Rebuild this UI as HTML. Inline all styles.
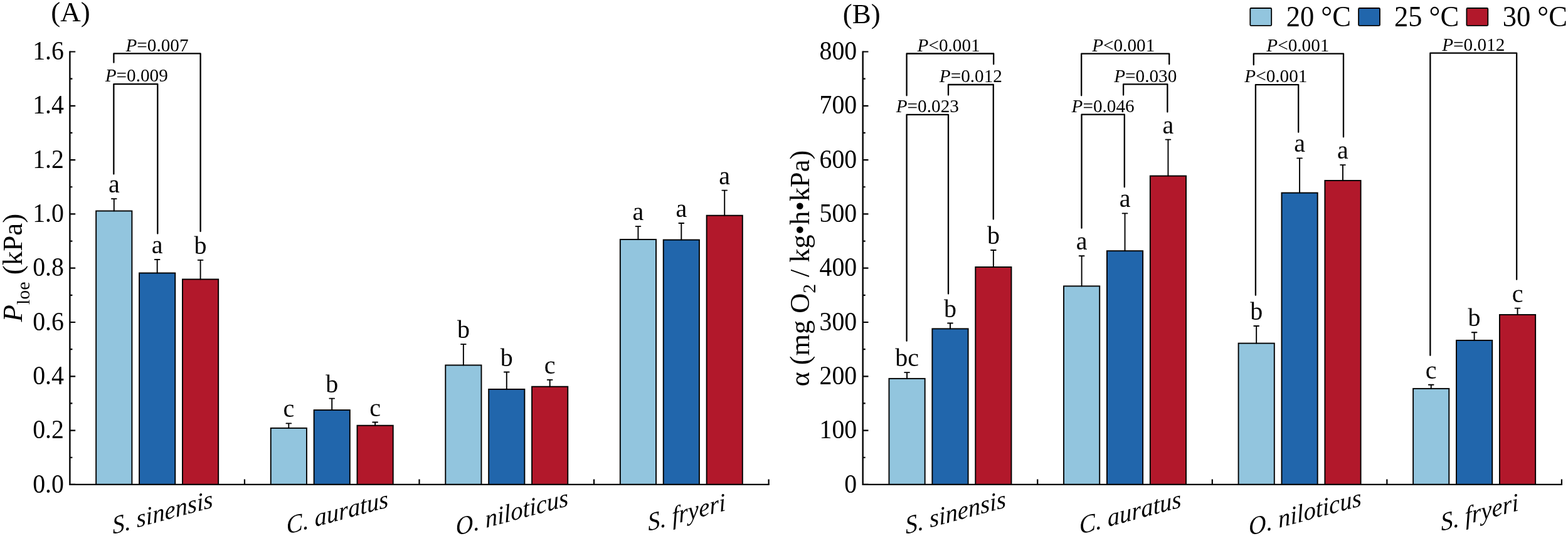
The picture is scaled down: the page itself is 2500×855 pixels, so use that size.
<!DOCTYPE html>
<html><head><meta charset="utf-8"><title>Figure</title>
<style>
html,body{margin:0;padding:0;background:#fff;}
body{width:2500px;height:855px;overflow:hidden;}
svg{display:block;}
svg text{font-family:"Liberation Serif", "Times New Roman", serif;fill:#000;}
</style></head>
<body>
<svg width="2500" height="855" viewBox="0 0 2500 855">
<rect width="2500" height="855" fill="#fff"/>
<rect x="153.18" y="336.5" width="57.2" height="436.4" fill="#92C5DE" stroke="#000" stroke-width="1.9"/>
<path d="M181.78 336.5V317.1M177.88 317.1H185.68" stroke="#000" stroke-width="1.9" fill="none" stroke-linecap="round"/>
<text transform="translate(181.78 307.1) scale(1 1)" text-anchor="middle" font-size="40">a</text>
<rect x="222.08" y="435.5" width="57.2" height="337.4" fill="#2166AC" stroke="#000" stroke-width="1.9"/>
<path d="M250.68 435.5V414M246.78 414H254.58" stroke="#000" stroke-width="1.9" fill="none" stroke-linecap="round"/>
<text transform="translate(250.68 404) scale(1 1)" text-anchor="middle" font-size="40">a</text>
<rect x="290.98" y="445.5" width="57.2" height="327.4" fill="#B2182B" stroke="#000" stroke-width="1.9"/>
<path d="M319.58 445.5V414.9M315.68 414.9H323.48" stroke="#000" stroke-width="1.9" fill="none" stroke-linecap="round"/>
<text transform="translate(319.58 404.9) scale(1 1)" text-anchor="middle" font-size="40">b</text>
<rect x="431.73" y="682.9" width="57.2" height="90" fill="#92C5DE" stroke="#000" stroke-width="1.9"/>
<path d="M460.33 682.9V675.4M456.43 675.4H464.23" stroke="#000" stroke-width="1.9" fill="none" stroke-linecap="round"/>
<text transform="translate(460.33 665.4) scale(1 1)" text-anchor="middle" font-size="40">c</text>
<rect x="500.62" y="654.1" width="57.2" height="118.8" fill="#2166AC" stroke="#000" stroke-width="1.9"/>
<path d="M529.23 654.1V635.6M525.33 635.6H533.12" stroke="#000" stroke-width="1.9" fill="none" stroke-linecap="round"/>
<text transform="translate(529.23 625.6) scale(1 1)" text-anchor="middle" font-size="40">b</text>
<rect x="569.52" y="678.7" width="57.2" height="94.2" fill="#B2182B" stroke="#000" stroke-width="1.9"/>
<path d="M598.12 678.7V673.5M594.23 673.5H602.02" stroke="#000" stroke-width="1.9" fill="none" stroke-linecap="round"/>
<text transform="translate(598.12 663.5) scale(1 1)" text-anchor="middle" font-size="40">c</text>
<rect x="710.28" y="582.5" width="57.2" height="190.4" fill="#92C5DE" stroke="#000" stroke-width="1.9"/>
<path d="M738.88 582.5V549.1M734.98 549.1H742.78" stroke="#000" stroke-width="1.9" fill="none" stroke-linecap="round"/>
<text transform="translate(738.88 539.1) scale(1 1)" text-anchor="middle" font-size="40">b</text>
<rect x="779.18" y="620.9" width="57.2" height="152" fill="#2166AC" stroke="#000" stroke-width="1.9"/>
<path d="M807.78 620.9V593.5M803.88 593.5H811.68" stroke="#000" stroke-width="1.9" fill="none" stroke-linecap="round"/>
<text transform="translate(807.78 583.5) scale(1 1)" text-anchor="middle" font-size="40">b</text>
<rect x="848.08" y="616.7" width="57.2" height="156.2" fill="#B2182B" stroke="#000" stroke-width="1.9"/>
<path d="M876.68 616.7V605.9M872.78 605.9H880.58" stroke="#000" stroke-width="1.9" fill="none" stroke-linecap="round"/>
<text transform="translate(876.68 595.9) scale(1 1)" text-anchor="middle" font-size="40">c</text>
<rect x="988.83" y="382" width="57.2" height="390.9" fill="#92C5DE" stroke="#000" stroke-width="1.9"/>
<path d="M1017.43 382V361.1M1013.53 361.1H1021.33" stroke="#000" stroke-width="1.9" fill="none" stroke-linecap="round"/>
<text transform="translate(1017.43 351.1) scale(1 1)" text-anchor="middle" font-size="40">a</text>
<rect x="1057.73" y="382.6" width="57.2" height="390.3" fill="#2166AC" stroke="#000" stroke-width="1.9"/>
<path d="M1086.33 382.6V356M1082.42 356H1090.23" stroke="#000" stroke-width="1.9" fill="none" stroke-linecap="round"/>
<text transform="translate(1086.33 346) scale(1 1)" text-anchor="middle" font-size="40">a</text>
<rect x="1126.63" y="343.7" width="57.2" height="429.2" fill="#B2182B" stroke="#000" stroke-width="1.9"/>
<path d="M1155.23 343.7V303.6M1151.33 303.6H1159.13" stroke="#000" stroke-width="1.9" fill="none" stroke-linecap="round"/>
<text transform="translate(1155.23 293.6) scale(1 1)" text-anchor="middle" font-size="40">a</text>
<path d="M111.4 81.4V774.1M110.2 772.9H1226.7" stroke="#000" stroke-width="2.4" fill="none"/>
<path d="M389.95 772.9V764.4M668.5 772.9V764.4M947.05 772.9V764.4M1225.6 772.9V764.4" stroke="#000" stroke-width="2.2" fill="none"/>
<path d="M111.4 772.9H120.2M111.4 729.75H115.4M111.4 686.6H120.2M111.4 643.45H115.4M111.4 600.3H120.2M111.4 557.15H115.4M111.4 514H120.2M111.4 470.85H115.4M111.4 427.7H120.2M111.4 384.55H115.4M111.4 341.4H120.2M111.4 298.25H115.4M111.4 255.1H120.2M111.4 211.95H115.4M111.4 168.8H120.2M111.4 125.65H115.4M111.4 82.5H120.2" stroke="#000" stroke-width="2.2" fill="none"/>
<text transform="translate(101.9 785.5) scale(0.97 1.05)" text-anchor="end" font-size="41">0.0</text>
<text transform="translate(101.9 699.2) scale(0.97 1.05)" text-anchor="end" font-size="41">0.2</text>
<text transform="translate(101.9 612.9) scale(0.97 1.05)" text-anchor="end" font-size="41">0.4</text>
<text transform="translate(101.9 526.6) scale(0.97 1.05)" text-anchor="end" font-size="41">0.6</text>
<text transform="translate(101.9 440.3) scale(0.97 1.05)" text-anchor="end" font-size="41">0.8</text>
<text transform="translate(101.9 354) scale(0.97 1.05)" text-anchor="end" font-size="41">1.0</text>
<text transform="translate(101.9 267.7) scale(0.97 1.05)" text-anchor="end" font-size="41">1.2</text>
<text transform="translate(101.9 181.4) scale(0.97 1.05)" text-anchor="end" font-size="41">1.4</text>
<text transform="translate(101.9 95.1) scale(0.97 1.05)" text-anchor="end" font-size="41">1.6</text>
<path d="M181.4 99.65V85.4H319.6V369.05" stroke="#000" stroke-width="2.3" fill="none" stroke-linejoin="round" stroke-linecap="round"/>
<text transform="translate(250.5 81.5) scale(0.975 1)" text-anchor="middle" font-size="30"><tspan font-style="italic">P</tspan>=0.007</text>
<path d="M181.35 277.55V134.2H251.3V372.55" stroke="#000" stroke-width="2.3" fill="none" stroke-linejoin="round" stroke-linecap="round"/>
<text transform="translate(217.75 130.3) scale(0.975 1)" text-anchor="middle" font-size="30"><tspan font-style="italic">P</tspan>=0.009</text>
<text transform="translate(259.07 816.9) rotate(-15) skewX(-10)" text-anchor="middle" dominant-baseline="central" font-size="39.8" font-style="italic">S. sinensis</text>
<text transform="translate(537.62 816.9) rotate(-15) skewX(-10)" text-anchor="middle" dominant-baseline="central" font-size="39.8" font-style="italic">C. auratus</text>
<text transform="translate(816.18 816.9) rotate(-15) skewX(-10)" text-anchor="middle" dominant-baseline="central" font-size="39.8" font-style="italic">O. niloticus</text>
<text transform="translate(1094.73 816.9) rotate(-15) skewX(-10)" text-anchor="middle" dominant-baseline="central" font-size="39.8" font-style="italic">S. fryeri</text>
<text transform="translate(35.1 513.6) rotate(-90)" font-size="45"><tspan font-style="italic">P</tspan><tspan font-size="30" dy="11.7">loe</tspan><tspan dy="-11.7"> (kPa)</tspan></text>
<rect x="1417.48" y="603.9" width="57.2" height="169" fill="#92C5DE" stroke="#000" stroke-width="1.9"/>
<path d="M1446.08 603.9V594.1M1442.17 594.1H1449.98" stroke="#000" stroke-width="1.9" fill="none" stroke-linecap="round"/>
<text transform="translate(1446.08 584.1) scale(1 1)" text-anchor="middle" font-size="40">bc</text>
<rect x="1486.38" y="524.4" width="57.2" height="248.5" fill="#2166AC" stroke="#000" stroke-width="1.9"/>
<path d="M1514.98 524.4V515.5M1511.08 515.5H1518.88" stroke="#000" stroke-width="1.9" fill="none" stroke-linecap="round"/>
<text transform="translate(1514.98 505.5) scale(1 1)" text-anchor="middle" font-size="40">b</text>
<rect x="1555.28" y="426" width="57.2" height="346.9" fill="#B2182B" stroke="#000" stroke-width="1.9"/>
<path d="M1583.88 426V399M1579.98 399H1587.78" stroke="#000" stroke-width="1.9" fill="none" stroke-linecap="round"/>
<text transform="translate(1583.88 389) scale(1 1)" text-anchor="middle" font-size="40">b</text>
<rect x="1696.03" y="456.4" width="57.2" height="316.5" fill="#92C5DE" stroke="#000" stroke-width="1.9"/>
<path d="M1724.62 456.4V408.2M1720.72 408.2H1728.53" stroke="#000" stroke-width="1.9" fill="none" stroke-linecap="round"/>
<text transform="translate(1724.62 398.2) scale(1 1)" text-anchor="middle" font-size="40">a</text>
<rect x="1764.93" y="400.2" width="57.2" height="372.7" fill="#2166AC" stroke="#000" stroke-width="1.9"/>
<path d="M1793.53 400.2V340.4M1789.62 340.4H1797.43" stroke="#000" stroke-width="1.9" fill="none" stroke-linecap="round"/>
<text transform="translate(1793.53 330.4) scale(1 1)" text-anchor="middle" font-size="40">a</text>
<rect x="1833.83" y="280.6" width="57.2" height="492.3" fill="#B2182B" stroke="#000" stroke-width="1.9"/>
<path d="M1862.43 280.6V222.6M1858.53 222.6H1866.33" stroke="#000" stroke-width="1.9" fill="none" stroke-linecap="round"/>
<text transform="translate(1862.43 212.6) scale(1 1)" text-anchor="middle" font-size="40">a</text>
<rect x="1974.58" y="547.6" width="57.2" height="225.3" fill="#92C5DE" stroke="#000" stroke-width="1.9"/>
<path d="M2003.18 547.6V520M1999.28 520H2007.08" stroke="#000" stroke-width="1.9" fill="none" stroke-linecap="round"/>
<text transform="translate(2003.18 510) scale(1 1)" text-anchor="middle" font-size="40">b</text>
<rect x="2043.48" y="307.6" width="57.2" height="465.3" fill="#2166AC" stroke="#000" stroke-width="1.9"/>
<path d="M2072.08 307.6V252.4M2068.18 252.4H2075.98" stroke="#000" stroke-width="1.9" fill="none" stroke-linecap="round"/>
<text transform="translate(2072.08 242.4) scale(1 1)" text-anchor="middle" font-size="40">a</text>
<rect x="2112.38" y="288" width="57.2" height="484.9" fill="#B2182B" stroke="#000" stroke-width="1.9"/>
<path d="M2140.98 288V263.1M2137.08 263.1H2144.88" stroke="#000" stroke-width="1.9" fill="none" stroke-linecap="round"/>
<text transform="translate(2140.98 253.1) scale(1 1)" text-anchor="middle" font-size="40">a</text>
<rect x="2253.12" y="619.9" width="57.2" height="153" fill="#92C5DE" stroke="#000" stroke-width="1.9"/>
<path d="M2281.72 619.9V613.7M2277.82 613.7H2285.62" stroke="#000" stroke-width="1.9" fill="none" stroke-linecap="round"/>
<text transform="translate(2281.72 603.7) scale(1 1)" text-anchor="middle" font-size="40">c</text>
<rect x="2322.03" y="542.9" width="57.2" height="230" fill="#2166AC" stroke="#000" stroke-width="1.9"/>
<path d="M2350.62 542.9V530.3M2346.72 530.3H2354.53" stroke="#000" stroke-width="1.9" fill="none" stroke-linecap="round"/>
<text transform="translate(2350.62 520.3) scale(1 1)" text-anchor="middle" font-size="40">b</text>
<rect x="2390.93" y="502" width="57.2" height="270.9" fill="#B2182B" stroke="#000" stroke-width="1.9"/>
<path d="M2419.53 502V491.6M2415.62 491.6H2423.43" stroke="#000" stroke-width="1.9" fill="none" stroke-linecap="round"/>
<text transform="translate(2419.53 481.6) scale(1 1)" text-anchor="middle" font-size="40">c</text>
<path d="M1375.7 81.4V774.1M1374.5 772.9H2491" stroke="#000" stroke-width="2.4" fill="none"/>
<path d="M1654.25 772.9V764.4M1932.8 772.9V764.4M2211.35 772.9V764.4M2489.9 772.9V764.4" stroke="#000" stroke-width="2.2" fill="none"/>
<path d="M1375.7 772.9H1384.5M1375.7 729.75H1379.7M1375.7 686.6H1384.5M1375.7 643.45H1379.7M1375.7 600.3H1384.5M1375.7 557.15H1379.7M1375.7 514H1384.5M1375.7 470.85H1379.7M1375.7 427.7H1384.5M1375.7 384.55H1379.7M1375.7 341.4H1384.5M1375.7 298.25H1379.7M1375.7 255.1H1384.5M1375.7 211.95H1379.7M1375.7 168.8H1384.5M1375.7 125.65H1379.7M1375.7 82.5H1384.5" stroke="#000" stroke-width="2.2" fill="none"/>
<text transform="translate(1366.2 785.5) scale(0.97 1.05)" text-anchor="end" font-size="41">0</text>
<text transform="translate(1366.2 699.2) scale(0.97 1.05)" text-anchor="end" font-size="41">100</text>
<text transform="translate(1366.2 612.9) scale(0.97 1.05)" text-anchor="end" font-size="41">200</text>
<text transform="translate(1366.2 526.6) scale(0.97 1.05)" text-anchor="end" font-size="41">300</text>
<text transform="translate(1366.2 440.3) scale(0.97 1.05)" text-anchor="end" font-size="41">400</text>
<text transform="translate(1366.2 354) scale(0.97 1.05)" text-anchor="end" font-size="41">500</text>
<text transform="translate(1366.2 267.7) scale(0.97 1.05)" text-anchor="end" font-size="41">600</text>
<text transform="translate(1366.2 181.4) scale(0.97 1.05)" text-anchor="end" font-size="41">700</text>
<text transform="translate(1366.2 95.1) scale(0.97 1.05)" text-anchor="end" font-size="41">800</text>
<path d="M1445.6 152.35V85.5H1584.2V102.35" stroke="#000" stroke-width="2.3" fill="none" stroke-linejoin="round" stroke-linecap="round"/>
<text transform="translate(1512.6 81.6) scale(0.975 1)" text-anchor="middle" font-size="30"><tspan font-style="italic">P</tspan>&lt;0.001</text>
<path d="M1512 151.55V135H1583.8V349.55" stroke="#000" stroke-width="2.3" fill="none" stroke-linejoin="round" stroke-linecap="round"/>
<text transform="translate(1547.9 131.1) scale(0.975 1)" text-anchor="middle" font-size="30"><tspan font-style="italic">P</tspan>=0.012</text>
<path d="M1445.6 543.85V182.8H1512V468.55" stroke="#000" stroke-width="2.3" fill="none" stroke-linejoin="round" stroke-linecap="round"/>
<text transform="translate(1478.8 178.9) scale(0.975 1)" text-anchor="middle" font-size="30"><tspan font-style="italic">P</tspan>=0.023</text>
<path d="M1724.2 152.35V85.7H1864.2V102.35" stroke="#000" stroke-width="2.3" fill="none" stroke-linejoin="round" stroke-linecap="round"/>
<text transform="translate(1791.2 81.8) scale(0.975 1)" text-anchor="middle" font-size="30"><tspan font-style="italic">P</tspan>&lt;0.001</text>
<path d="M1791.1 151.6V134.4H1861.35V178.5" stroke="#000" stroke-width="2.3" fill="none" stroke-linejoin="round" stroke-linecap="round"/>
<text transform="translate(1826.22 130.5) scale(0.975 1)" text-anchor="middle" font-size="30"><tspan font-style="italic">P</tspan>=0.030</text>
<path d="M1724.5 363.75V182.65H1792.8V298.35" stroke="#000" stroke-width="2.3" fill="none" stroke-linejoin="round" stroke-linecap="round"/>
<text transform="translate(1758.65 178.75) scale(0.975 1)" text-anchor="middle" font-size="30"><tspan font-style="italic">P</tspan>=0.046</text>
<path d="M1998.8 103.25V85.7H2142V218.45" stroke="#000" stroke-width="2.3" fill="none" stroke-linejoin="round" stroke-linecap="round"/>
<text transform="translate(2069.4 81.8) scale(0.975 1)" text-anchor="middle" font-size="30"><tspan font-style="italic">P</tspan>&lt;0.001</text>
<path d="M2001.9 470.75V135.1H2070.2V210.75" stroke="#000" stroke-width="2.3" fill="none" stroke-linejoin="round" stroke-linecap="round"/>
<text transform="translate(2034.4 131.2) scale(0.975 1)" text-anchor="middle" font-size="30"><tspan font-style="italic">P</tspan>&lt;0.001</text>
<path d="M2280.35 566.75V84.7H2418.15V445.75" stroke="#000" stroke-width="2.3" fill="none" stroke-linejoin="round" stroke-linecap="round"/>
<text transform="translate(2349.25 80.8) scale(0.975 1)" text-anchor="middle" font-size="30"><tspan font-style="italic">P</tspan>=0.012</text>
<text transform="translate(1523.38 816.9) rotate(-15) skewX(-10)" text-anchor="middle" dominant-baseline="central" font-size="39.8" font-style="italic">S. sinensis</text>
<text transform="translate(1801.93 816.9) rotate(-15) skewX(-10)" text-anchor="middle" dominant-baseline="central" font-size="39.8" font-style="italic">C. auratus</text>
<text transform="translate(2080.48 816.9) rotate(-15) skewX(-10)" text-anchor="middle" dominant-baseline="central" font-size="39.8" font-style="italic">O. niloticus</text>
<text transform="translate(2359.03 816.9) rotate(-15) skewX(-10)" text-anchor="middle" dominant-baseline="central" font-size="39.8" font-style="italic">S. fryeri</text>
<text transform="translate(1290.2 616.6) rotate(-90) scale(0.985 1)" font-size="45">α (mg O<tspan font-size="30" dy="10">2</tspan><tspan dy="-10"> / kg•h•kPa)</tspan></text>
<text transform="translate(81.2 33.9) scale(1 1)" font-size="45">(A)</text>
<text transform="translate(1343.8 36.8) scale(1 1)" font-size="45">(B)</text>
<rect x="1993.3" y="13" width="33.9" height="27.9" rx="1.5" fill="#92C5DE" stroke="#000" stroke-width="1.8"/>
<text transform="translate(2050.7 41.8) scale(0.99 1.02)" font-size="45">20 °C</text>
<rect x="2166.1" y="13" width="33.9" height="27.9" rx="1.5" fill="#2166AC" stroke="#000" stroke-width="1.8"/>
<text transform="translate(2222.9 41.8) scale(0.99 1.02)" font-size="45">25 °C</text>
<rect x="2338.4" y="13" width="33.9" height="27.9" rx="1.5" fill="#B2182B" stroke="#000" stroke-width="1.8"/>
<text transform="translate(2395.7 41.8) scale(0.99 1.02)" font-size="45">30 °C</text>
</svg>
</body></html>
